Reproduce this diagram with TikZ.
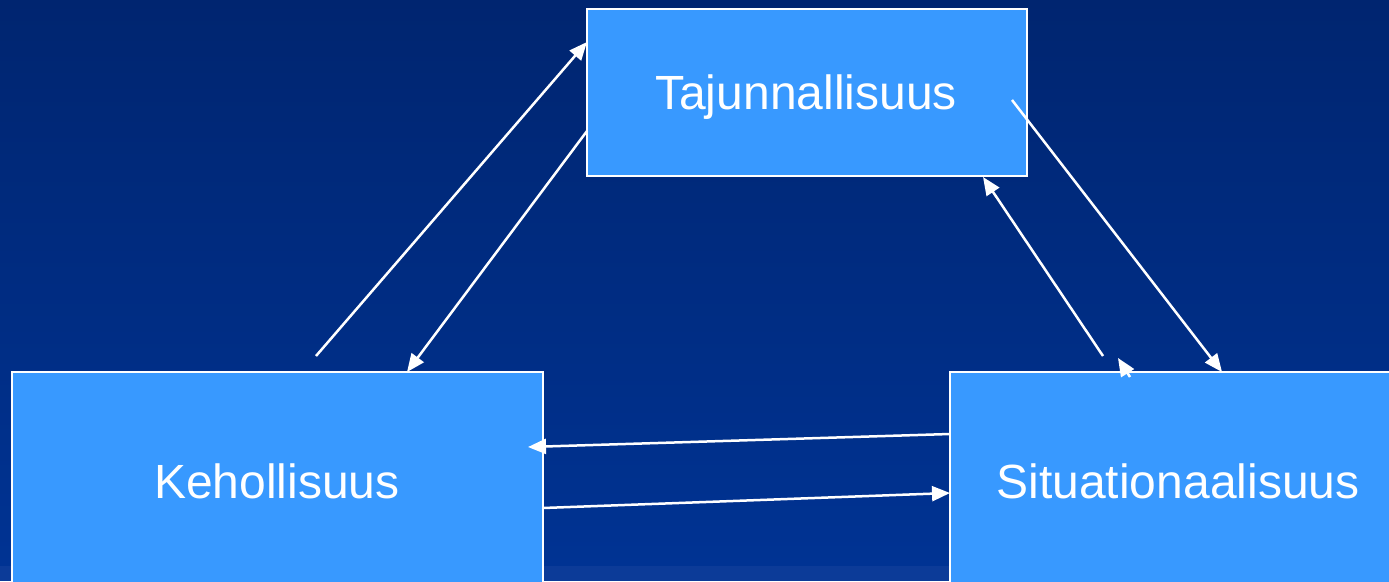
\documentclass[tikz,border=0pt]{standalone}
\usepackage{fontspec}
\setmainfont{Liberation Sans}
\usetikzlibrary{arrows.meta}
\definecolor{bgtop}{HTML}{002570}
\definecolor{bgbot}{HTML}{003393}
\definecolor{bgstrip}{HTML}{0C3B98}
\definecolor{boxblue}{HTML}{3899FF}
\tikzset{
  box/.style={draw=white, line width=2pt, fill=boxblue, inner sep=0pt},
  lbl/.style={text=white, font=\fontsize{48}{52}\selectfont, anchor=base, inner sep=0pt},
  arr/.style={draw=white, line width=2.5pt, -{Triangle[length=18pt,width=15pt]}}
}
\begin{document}
\begin{tikzpicture}[x=1pt,y=-1pt]
\useasboundingbox (0,0) rectangle (1389,581);
\clip (0,0) rectangle (1389,581);
\shade[top color=bgtop, bottom color=bgbot] (0,0) rectangle (1389,566);
\fill[bgstrip] (0,566) rectangle (1389,581);
% boxes
\node[box, minimum width=440pt, minimum height=167pt] (top) at (807,92.5) {};
\node[box, minimum width=531pt, minimum height=248pt] (left) at (277.5,496) {};
\node[box, minimum width=470pt, minimum height=248pt] (right) at (1185,496) {};
% labels
\node[lbl] (tl) at (806,109) {Tajunnallisuus};
\node[lbl] (ll) at (277,498) {Kehollisuus};
\node[lbl] (rl) at (1178,498) {Situationaalisuus};
% connector end points
\coordinate (a1s) at (316,356);
\coordinate (a1e) at (587,42);
\coordinate (a2s) at (587,131);
\coordinate (a2e) at (407,372);
\coordinate (a3s) at (1012,100);
\coordinate (a3e) at (1222,372);
\coordinate (a4s) at (1103,356);
\coordinate (a4e) at (983,177);
\coordinate (a5s) at (1130,377);
\coordinate (a5e) at (1118,358);
\coordinate (a6s) at (950,434);
\coordinate (a6e) at (528,447);
\coordinate (a7s) at (543,508);
\coordinate (a7e) at (950,493);
\draw[arr] (a1s) -- (a1e);
\draw[arr] (a2s) -- (a2e);
\draw[arr] (a3s) -- (a3e);
\draw[arr] (a4s) -- (a4e);
\draw[arr] (a5s) -- (a5e);
\draw[arr] (a6s) -- (a6e);
\draw[arr] (a7s) -- (a7e);
\end{tikzpicture}
\end{document}
